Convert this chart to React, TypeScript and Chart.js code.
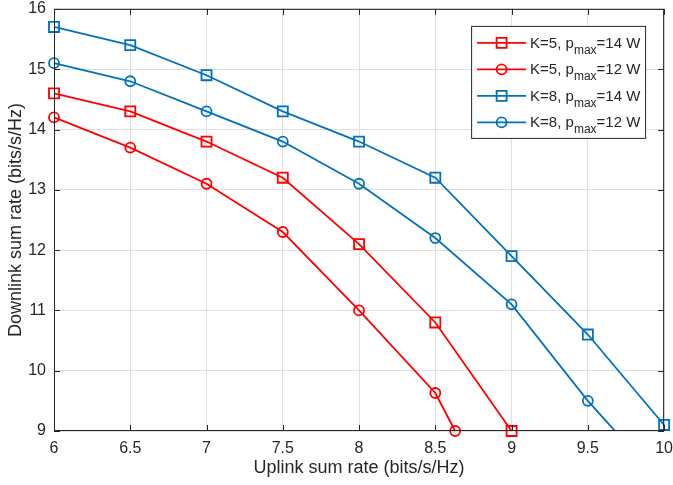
import React, { useEffect, useRef } from 'react';
import { Chart, registerables } from 'chart.js';
Chart.register(...registerables);

const xK5p14 = [6, 6.5, 7, 7.5, 8, 8.5, 9];
const yK5p14 = [14.6, 14.3, 13.8, 13.2, 12.1, 10.8, 9.0];
const xK5p12 = [6, 6.5, 7, 7.5, 8, 8.5, 8.63];
const yK5p12 = [14.2, 13.7, 13.1, 12.3, 11.0, 9.63, 9.0];
const xK8p14 = [6, 6.5, 7, 7.5, 8, 8.5, 9, 9.5, 10];
const yK8p14 = [15.7, 15.4, 14.9, 14.3, 13.8, 13.2, 11.9, 10.6, 9.1];
const xK8p12 = [6, 6.5, 7, 7.5, 8, 8.5, 9, 9.5, 10];
const yK8p12 = [15.1, 14.8, 14.3, 13.8, 13.1, 12.2, 11.1, 9.5, 8.1];

const legendK = ['K=5, p', 'K=5, p', 'K=8, p', 'K=8, p'];
const legendSub = ['max', 'max', 'max', 'max'];
const legendPower = ['=14 W', '=12 W', '=14 W', '=12 W'];
const xTicks = [6, 6.5, 7, 7.5, 8, 8.5, 9, 9.5, 10];
const yTicks = [9, 10, 11, 12, 13, 14, 15, 16];

const RED = '#ff0000';
const BLUE = '#0072bd';
const TXT = '#262626';
const FONT = 'Arial, "Liberation Sans", sans-serif';

const zip = (xs: number[], ys: number[]) => xs.map((x, i) => ({ x, y: ys[i] }));

const styles = [
  { color: RED, marker: 'rect' },
  { color: RED, marker: 'circle' },
  { color: BLUE, marker: 'rect' },
  { color: BLUE, marker: 'circle' },
];

const boxPlugin = {
  id: 'matlabBox',
  afterDraw(chart: any) {
    const { ctx, chartArea } = chart;
    const { left, right, top, bottom } = chartArea;
    const xs = chart.scales.x;
    const ys = chart.scales.y;
    ctx.save();
    ctx.strokeStyle = TXT;
    ctx.lineWidth = 1;
    ctx.beginPath();
    ctx.rect(left + 0.5, top + 0.5, right - left - 1, bottom - top - 1);
    ctx.stroke();
    const tl = 6;
    ctx.beginPath();
    xTicks.forEach((v) => {
      const p = Math.round(xs.getPixelForValue(v)) + 0.5;
      ctx.moveTo(p, bottom);
      ctx.lineTo(p, bottom - tl);
      ctx.moveTo(p, top);
      ctx.lineTo(p, top + tl);
    });
    yTicks.forEach((v) => {
      const p = Math.round(ys.getPixelForValue(v)) + 0.5;
      ctx.moveTo(left, p);
      ctx.lineTo(left + tl, p);
      ctx.moveTo(right, p);
      ctx.lineTo(right - tl, p);
    });
    ctx.stroke();

    // legend
    const bx = right - 193;
    const by = top + 17;
    const bw = 175;
    const bh = 113;
    ctx.fillStyle = '#ffffff';
    ctx.fillRect(bx, by, bw, bh);
    ctx.strokeStyle = TXT;
    ctx.lineWidth = 1;
    ctx.strokeRect(bx + 0.5, by + 0.5, bw - 1, bh - 1);
    styles.forEach((s, i) => {
      const cy = by + 17 + i * 26.5;
      ctx.strokeStyle = s.color;
      ctx.lineWidth = 1.8;
      ctx.beginPath();
      ctx.moveTo(bx + 6, cy);
      ctx.lineTo(bx + 55, cy);
      ctx.stroke();
      const mx = bx + 30.5;
      ctx.beginPath();
      if (s.marker === 'rect') {
        ctx.rect(mx - 5, cy - 5, 10, 10);
      } else {
        ctx.arc(mx, cy, 5, 0, Math.PI * 2);
      }
      ctx.stroke();
      ctx.fillStyle = TXT;
      ctx.textBaseline = 'alphabetic';
      ctx.textAlign = 'left';
      ctx.font = `15px ${FONT}`;
      let tx = bx + 59;
      ctx.fillText(legendK[i], tx, cy + 5);
      tx += ctx.measureText(legendK[i]).width;
      ctx.font = `12px ${FONT}`;
      ctx.fillText(legendSub[i], tx, cy + 11);
      tx += ctx.measureText(legendSub[i]).width;
      ctx.font = `15px ${FONT}`;
      ctx.fillText(legendPower[i], tx, cy + 5);
    });
    ctx.restore();
  },
};

export default function App() {
  const ref = useRef<HTMLCanvasElement | null>(null);
  useEffect(() => {
    document.body.style.margin = '0';
    document.body.style.overflow = 'hidden';
    const xsArr = [xK5p14, xK5p12, xK8p14, xK8p12];
    const ysArr = [yK5p14, yK5p12, yK8p14, yK8p12];
    const labels = legendK.map((k, i) => `${k}${legendSub[i]}${legendPower[i]}`);
    const datasets = styles.map((s, i) => ({
      label: labels[i],
      data: zip(xsArr[i], ysArr[i]),
      borderColor: s.color,
      backgroundColor: 'rgba(0,0,0,0)',
      pointBackgroundColor: 'rgba(0,0,0,0)',
      pointBorderColor: s.color,
      pointBorderWidth: 1.8,
      pointStyle: s.marker,
      pointRadius: s.marker === 'rect' ? 7.1 : 5,
      pointHoverRadius: s.marker === 'rect' ? 7.1 : 5,
      borderWidth: 1.8,
      showLine: true,
      fill: false,
      tension: 0,
      clip: i === 3 ? { left: 12, top: 12, right: 12, bottom: 0 } : (false as any),
    }));
    const chart = new Chart(ref.current as HTMLCanvasElement, {
      type: 'scatter',
      data: { datasets } as any,
      options: {
        animation: false,
        responsive: false,
        events: [],
        layout: { padding: { top: 8, right: 7, left: 0, bottom: 0 } },
        plugins: { legend: { display: false }, tooltip: { enabled: false } },
        scales: {
          x: {
            type: 'linear',
            min: 6,
            max: 10,
            afterBuildTicks: (s: any) => {
              s.ticks = xTicks.map((v) => ({ value: v }));
            },
            afterFit: (s: any) => {
              s.height = 54;
              s.paddingLeft = 0;
              s.paddingRight = 0;
            },
            grid: { color: '#dfdfdf', drawTicks: false, lineWidth: 1 },
            border: { display: false },
            ticks: {
              color: TXT,
              font: { family: FONT, size: 16 },
              padding: 8,
              maxRotation: 0,
              autoSkip: false,
              callback: (v: any) => String(v),
            },
            title: {
              display: true,
              text: 'Uplink sum rate (bits/s/Hz)',
              color: TXT,
              font: { family: FONT, size: 18 },
              padding: { top: 0, bottom: 6 },
            },
          },
          y: {
            type: 'linear',
            min: 9,
            max: 16,
            afterBuildTicks: (s: any) => {
              s.ticks = yTicks.map((v) => ({ value: v }));
            },
            afterFit: (s: any) => {
              s.width = 54;
              s.paddingTop = 0;
              s.paddingBottom = 0;
            },
            grid: { color: '#dfdfdf', drawTicks: false, lineWidth: 1 },
            border: { display: false },
            ticks: {
              color: TXT,
              font: { family: FONT, size: 16 },
              padding: 8,
              autoSkip: false,
              callback: (v: any) => String(v),
            },
            title: {
              display: true,
              text: 'Downlink sum rate (bits/s/Hz)',
              color: TXT,
              font: { family: FONT, size: 18 },
              padding: { top: 5, bottom: 0 },
            },
          },
        },
      },
      plugins: [boxPlugin],
    } as any);
    return () => chart.destroy();
  }, []);
  return (
    <div style={{ width: 673, height: 485 }}>
      <canvas ref={ref} width={673} height={485} style={{ width: 673, height: 485, display: 'block' }} />
    </div>
  );
}
